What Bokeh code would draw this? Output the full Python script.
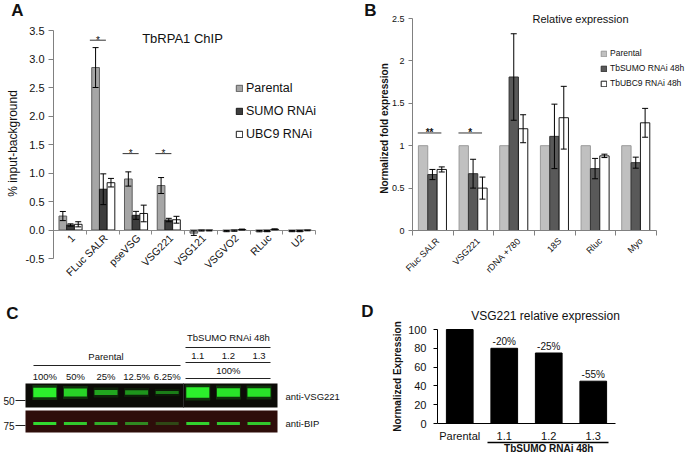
import math
from bokeh.plotting import figure
from bokeh.layouts import column, row
from bokeh.core.properties import value
from bokeh.models import (Range1d, FixedTicker, NumeralTickFormatter, CustomJSTickFormatter, LinearAxis,
                          Label, LabelSet, ColumnDataSource, Whisker, TeeHead, Legend, LegendItem)
from bokeh.embed import file_html
from bokeh.resources import INLINE

FONT = "Liberation Sans"
INK = "#111111"

# ---------------- data: panel A (TbRPA1 ChIP) ----------------
a_categories = ["1", "FLuc SALR", "pseVSG", "VSG221", "VSG121", "VSGVO2", "RLuc", "U2"]
a_series = ["Parental", "SUMO RNAi", "UBC9 RNAi"]
a_parental = [0.245, 2.85, 0.895, 0.78, -0.055, -0.02, -0.02, -0.02]
a_parental_err = [0.08, 0.35, 0.125, 0.14, 0.04, 0.01, 0.012, 0.01]
a_sumo = [0.088, 0.715, 0.257, 0.175, -0.01, -0.012, -0.02, -0.02]
a_sumo_err = [0.02, 0.27, 0.07, 0.03, 0.008, 0.01, 0.01, 0.01]
a_ubc9 = [0.10, 0.83, 0.29, 0.18, -0.01, 0.008, 0.012, -0.008]
a_ubc9_err = [0.045, 0.075, 0.146, 0.06, 0.006, 0.008, 0.008, 0.006]
a_sig_categories = ["FLuc SALR", "pseVSG", "VSG221"]
a_sig_level = [3.33, 1.34, 1.34]
a_sig_marks = ["*", "*", "*"]
a_ticks = [-0.5, 0.0, 0.5, 1.0, 1.5, 2.0, 2.5, 3.0, 3.5]

# ---------------- data: panel B (Relative expression) ----------------
b_categories = ["Fluc SALR", "VSG221", "rDNA +780", "18S", "Rluc", "Myo"]
b_series = ["Parental", "TbSUMO RNAi 48h", "TbUBC9 RNAi 48h"]
b_parental = [1.0, 1.0, 1.0, 1.0, 1.0, 1.0]
b_parental_err = [0, 0, 0, 0, 0, 0]
b_sumo = [0.66, 0.67, 1.81, 1.11, 0.73, 0.80]
b_sumo_err = [0.06, 0.17, 0.51, 0.38, 0.12, 0.065]
b_ubc9 = [0.72, 0.50, 1.20, 1.33, 0.88, 1.27]
b_ubc9_err = [0.03, 0.13, 0.165, 0.37, 0.02, 0.17]
b_sig_categories = ["Fluc SALR", "VSG221"]
b_sig_level = [1.15, 1.15]
b_sig_marks = ["**", "*"]
b_ticks = [0, 0.5, 1.0, 1.5, 2.0, 2.5]

# ---------------- data: panel C (western blot) ----------------
c_parental_lanes = ["100%", "50%", "25%", "12.5%", "6.25%"]
c_sumo_lanes = ["1.1", "1.2", "1.3"]
c_vsg_signal = [1.0, 0.82, 0.55, 0.45, 0.33, 1.1, 0.92, 0.92]
c_bip_signal = [1.0, 0.9, 0.75, 0.55, 0.2, 0.95, 0.9, 0.9]
c_markers = ["50", "75"]

# ---------------- data: panel D (VSG221 relative expression) ----------------
d_categories = ["Parental", "1.1", "1.2", "1.3"]
d_values = [100, 80, 75, 45]
d_labels = ["", "-20%", "-25%", "-55%"]
d_ticks = [0, 20, 40, 60, 80, 100]


def make_mapper(L, R, T, B, x0, x1, y0, y1):
    """Convert page positions (layout) into data coordinates of a panel."""
    def fx(px):
        return x0 + (px - L) / (R - L) * (x1 - x0)

    def fy(py):
        return y0 + (B - py) / (B - T) * (y1 - y0)
    return fx, fy


def panel_fig(ox, oy, w, h, L, R, T, B, x0, x1, y0, y1):
    fx, fy = make_mapper(L, R, T, B, x0, x1, y0, y1)
    p = figure(width=w, height=h, x_range=Range1d(fx(ox), fx(ox + w)), y_range=Range1d(fy(oy + h), fy(oy)),
               output_backend="svg", toolbar_location=None, x_axis_location=None, y_axis_location=None,
               min_border_left=0, min_border_right=0, min_border_top=0, min_border_bottom=0)
    p.outline_line_color = None
    p.grid.visible = False
    p.background_fill_color = "white"
    p.border_fill_color = "white"
    return p, fx, fy


def add_text(p, x, y, text, size, bold=False, align="center", baseline="middle", angle=0, color=INK):
    p.add_layout(Label(x=x, y=y, text=text, text_font=FONT, text_font_size=f"{size}px",
                       text_font_style="bold" if bold else "normal", text_align=align,
                       text_baseline=baseline, angle=angle, text_color=color))


def y_axis(p, ticks, fmt, size, color, tick_out, standoff):
    ax = LinearAxis(fixed_location=0, bounds=(ticks[0], ticks[-1]), ticker=FixedTicker(ticks=ticks),
                    formatter=NumeralTickFormatter(format=fmt))
    ax.major_label_text_font = FONT
    ax.major_label_text_font_size = f"{size}px"
    ax.major_label_text_color = INK
    ax.axis_line_color = color
    ax.major_tick_line_color = color
    ax.major_tick_out = tick_out
    ax.major_tick_in = 0
    ax.minor_tick_line_color = None
    ax.major_label_standoff = standoff
    p.add_layout(ax, "left")
    return ax


def x_axis(p, n, ticks, color, tick_out, formatter):
    ax = LinearAxis(fixed_location=0, bounds=(0, n), ticker=FixedTicker(ticks=ticks), formatter=formatter)
    ax.axis_line_color = color
    ax.major_tick_line_color = color if tick_out > 0 else None
    ax.major_tick_out = tick_out
    ax.major_tick_in = 0
    ax.minor_tick_line_color = None
    ax.major_label_text_font = FONT
    ax.major_label_text_color = INK
    p.add_layout(ax, "below")
    return ax


def grouped_bars(p, n, series_vals, series_errs, fills, lines, bw, shift, cap):
    rends = []
    offsets = [-bw, 0.0, bw]
    for k in range(3):
        vals = series_vals[k]
        errs = series_errs[k]
        xs = [i + 0.5 + shift + offsets[k] for i in range(n)]
        src = ColumnDataSource(dict(x=xs, top=vals))
        r = p.vbar(x="x", top="top", bottom=0, width=bw, source=src,
                   fill_color=fills[k], line_color=lines[k], line_width=1)
        rends.append(r)
        ex = [x for x, e in zip(xs, errs) if e > 0]
        eu = [v + e for v, e in zip(vals, errs) if e > 0]
        el = [v - e for v, e in zip(vals, errs) if e > 0]
        if ex:
            esrc = ColumnDataSource(dict(x=ex, upper=eu, lower=el))
            w = Whisker(source=esrc, base="x", upper="upper", lower="lower",
                        line_color="#000000", line_width=1, level="annotation",
                        upper_head=TeeHead(size=cap, line_color="#000000", line_width=1),
                        lower_head=TeeHead(size=cap, line_color="#000000", line_width=1))
            p.add_layout(w)
    return rends


blank = CustomJSTickFormatter(code="return ''")

# ======================= Panel A =======================
nA = len(a_categories)
pA, fxA, fyA = panel_fig(0, 0, 340, 278, 53, 315, 30, 258, 0, nA, -0.5, 3.5)
y_axis(pA, a_ticks, "0.0", 11, "#808080", 5, 4)

rA = grouped_bars(pA, nA, [a_parental, a_sumo, a_ubc9], [a_parental_err, a_sumo_err, a_ubc9_err],
                  ["#a6a6a6", "#3d3d3d", "#ffffff"], ["#5e5e5e", "#1a1a1a", "#1a1a1a"], 0.235, 0.02, 6)
x_axis(pA, nA, list(range(nA + 1)), "#8a8a8a", 4, blank)

labA = ColumnDataSource(dict(x=[i + 0.5 for i in range(nA)], y=[0] * nA, text=a_categories))
pA.add_layout(LabelSet(x="x", y="y", text="text", source=labA, angle=math.pi / 4,
                       text_align="right", text_baseline="middle", x_offset=3, y_offset=-6,
                       text_font=value(FONT), text_font_size=value("10.5px"), text_color=INK))

for cat, lev, mark in zip(a_sig_categories, a_sig_level, a_sig_marks):
    c = a_categories.index(cat) + 0.5
    pA.segment(x0=[c - 0.39], y0=[lev], x1=[c + 0.1], y1=[lev], line_color="#333333", line_width=1)
    add_text(pA, c - 0.145, lev, mark, 10, baseline="alphabetic")

add_text(pA, fxA(182), fyA(38), "TbRPA1 ChIP", 13)
add_text(pA, fxA(12), fyA(143), "% input-background", 12, angle=math.pi / 2)
add_text(pA, fxA(17), fyA(10), "A", 17, bold=True)

legA = Legend(items=[LegendItem(label=s, renderers=[r]) for s, r in zip(a_series, rA)],
              location=(235, 278 - 141), orientation="vertical",
              label_text_font=FONT, label_text_font_size="12.5px", label_text_color=INK,
              glyph_width=8, glyph_height=8, label_height=14, spacing=9, padding=0, margin=0,
              label_standoff=3, border_line_alpha=0, background_fill_alpha=0)
pA.add_layout(legA)

# ======================= Panel B =======================
nB = len(b_categories)
pB, fxB, fyB = panel_fig(340, 0, 347, 278, 412, 656, 18, 230, 0, nB, 0, 2.5)
y_axis(pB, b_ticks, "0.[0]", 9, "#808080", 4, 4)

rB = grouped_bars(pB, nB, [b_parental, b_sumo, b_ubc9], [b_parental_err, b_sumo_err, b_ubc9_err],
                  ["#c0c0c0", "#595959", "#ffffff"], ["#9a9a9a", "#333333", "#1a1a1a"], 0.23, -0.01, 6)
x_axis(pB, nB, list(range(nB + 1)), "#808080", 5, blank)

labB = ColumnDataSource(dict(x=[i + 0.5 for i in range(nB)], y=[0] * nB, text=b_categories))
pB.add_layout(LabelSet(x="x", y="y", text="text", source=labB, angle=math.pi / 4,
                       text_align="right", text_baseline="middle", x_offset=5, y_offset=-9,
                       text_font=value(FONT), text_font_size=value("9px"), text_color=INK))

for cat, lev, mark in zip(b_sig_categories, b_sig_level, b_sig_marks):
    c = b_categories.index(cat) + 0.5
    pB.segment(x0=[c - 0.37], y0=[lev], x1=[c + 0.21], y1=[lev], line_color="#333333", line_width=1)
    add_text(pB, c - 0.08, lev, mark, 10, bold=True, baseline="alphabetic")

add_text(pB, fxB(580), fyB(18), "Relative expression", 11)
add_text(pB, fxB(384), fyB(128), "Normalized fold expression", 10, bold=True, angle=math.pi / 2)
add_text(pB, fxB(370), fyB(10), "B", 17, bold=True)

legB = Legend(items=[LegendItem(label=s, renderers=[r]) for s, r in zip(b_series, rB)],
              location=(600 - 340, 278 - 89), orientation="vertical",
              label_text_font=FONT, label_text_font_size="8.5px", label_text_color=INK,
              glyph_width=7, glyph_height=7, label_height=12, spacing=3, padding=0, margin=0,
              label_standoff=3, border_line_alpha=0, background_fill_alpha=0)
pB.add_layout(legB)

# ======================= Panel C =======================
nlanes = len(c_parental_lanes) + len(c_sumo_lanes)
lanes = list(range(nlanes))
pC, fxC, fyC = panel_fig(0, 278, 340, 177, 44.3, 44.3 + 30.6, 278, 455, 0, 1, 177, 0)

pC.quad(left=[fxC(25)], right=[fxC(277)], top=[fyC(383)], bottom=[fyC(407)],
        fill_color="#0c0b07", line_color=None)
pC.quad(left=[fxC(25)], right=[fxC(277)], top=[fyC(410)], bottom=[fyC(432)],
        fill_color="#2e0d0a", line_color=None)
pC.segment(x0=[fxC(183)], y0=[fyC(383)], x1=[fxC(183)], y1=[fyC(407)], line_color="#2e2e2e", line_width=1)

band_w = 23 / 30.6
pC.rect(x=lanes, y=[fyC(392)] * nlanes, width=band_w * 1.08, height=[4 + 11 * s for s in c_vsg_signal],
        fill_color="#1fd21f", fill_alpha=[0.22 * min(1, s) for s in c_vsg_signal], line_color=None)
pC.rect(x=lanes, y=[fyC(392)] * nlanes, width=band_w, height=[9.5 * s for s in c_vsg_signal],
        fill_color="#2cf02c", fill_alpha=[min(1, 0.2 + 0.8 * s) for s in c_vsg_signal], line_color=None)
pC.rect(x=lanes, y=[fyC(423)] * nlanes, width=band_w, height=[3.2] * nlanes,
        fill_color="#33e633", fill_alpha=[min(1, 0.1 + 0.85 * s) for s in c_bip_signal], line_color=None)

add_text(pC, fxC(12), fyC(313), "C", 17, bold=True)
add_text(pC, 2.0, fyC(356), "Parental", 9.5)
pC.segment(x0=[fxC(33)], y0=[fyC(365)], x1=[fxC(180)], y1=[fyC(365)], line_color="#222222", line_width=1.2)
for i, t in enumerate(c_parental_lanes):
    add_text(pC, i, fyC(376), t, 9.5)
s0 = len(c_parental_lanes)
add_text(pC, s0 + 1, fyC(337), "TbSUMO RNAi 48h", 9.5)
for yy in (347, 362, 378):
    pC.segment(x0=[fxC(185)], y0=[fyC(yy)], x1=[fxC(270)], y1=[fyC(yy)], line_color="#222222", line_width=1.2)
for j, t in enumerate(c_sumo_lanes):
    add_text(pC, s0 + j, fyC(355), t, 9.5)
add_text(pC, s0 + 1, fyC(370), "100%", 9.5)

for m, yy in zip(c_markers, (400, 425)):
    add_text(pC, fxC(3), fyC(yy), m, 10, align="left")
    pC.segment(x0=[fxC(15)], y0=[fyC(yy)], x1=[fxC(25)], y1=[fyC(yy)], line_color="#222222", line_width=1.2)
add_text(pC, fxC(285), fyC(396), "anti-VSG221", 9.5, align="left")
add_text(pC, fxC(285), fyC(423), "anti-BIP", 9.5, align="left")

# ======================= Panel D =======================
nD = len(d_categories)
pD, fxD, fyD = panel_fig(340, 278, 347, 177, 437, 615, 329, 423, 0, nD, 0, 100)
y_axis(pD, d_ticks, "0", 11, "#000000", 4, 7)
xd = x_axis(pD, nD, [i + 0.5 for i in range(nD)], "#000000", 0,
            CustomJSTickFormatter(args=dict(cats=d_categories), code="return cats[Math.floor(tick)] || ''"))
xd.major_label_standoff = 6
xd.major_label_text_font_size = "11px"

srcD = ColumnDataSource(dict(x=[i + 0.5 for i in range(nD)], top=d_values, lab=d_labels))
pD.vbar(x="x", top="top", width=0.6, bottom=0, source=srcD, fill_color="#000000", line_color="#000000")
pD.add_layout(LabelSet(x="x", y="top", text="lab", source=srcD, text_align="center",
                       text_baseline="bottom", y_offset=1, text_font=value(FONT),
                       text_font_size=value("10px"), text_color=INK))
pD.segment(x0=[fxD(487)], y0=[fyD(442)], x1=[fxD(608)], y1=[fyD(442)], line_color="#000000", line_width=1.3)
add_text(pD, 2.5, fyD(448), "TbSUMO RNAi 48h", 10, bold=True)
add_text(pD, fxD(545), fyD(315), "VSG221 relative expression", 12)
add_text(pD, fxD(397), fyD(376), "Normalized Expression", 10, bold=True, angle=math.pi / 2)
add_text(pD, fxD(367), fyD(311), "D", 17, bold=True)

layout = column(row(pA, pB), row(pC, pD))
open("out.html", "w").write(file_html(layout, INLINE))
